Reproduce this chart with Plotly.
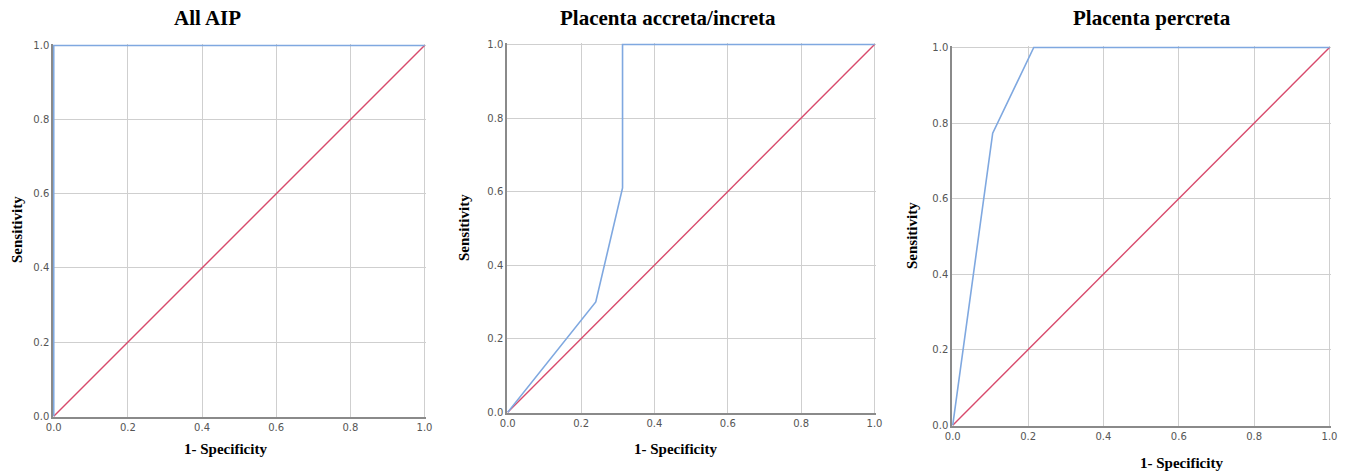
import plotly.graph_objects as go

# ---- data ----
titles = ["All AIP", "Placenta accreta/increta", "Placenta percreta"]
roc_x_all = [0.0, 0.0, 1.0]
roc_y_all = [0.0, 1.0, 1.0]
roc_x_acc = [0.0, 0.24, 0.313, 0.313, 1.0]
roc_y_acc = [0.0, 0.30, 0.61, 1.0, 1.0]
roc_x_per = [0.0, 0.106, 0.215, 1.0]
roc_y_per = [0.0, 0.773, 1.0, 1.0]
ref_x = [0.0, 1.0]
ref_y = [0.0, 1.0]
tick_vals = [0.0, 0.2, 0.4, 0.6, 0.8, 1.0]
tick_text = ["0.0", "0.2", "0.4", "0.6", "0.8", "1.0"]

W, H = 1351, 473
# pixel boxes (x0, x1, ytop, ybottom)
boxes = [(53, 426, 44, 417), (507, 876, 43, 413), (952, 1331, 46, 426)]
curves = [(roc_x_all, roc_y_all), (roc_x_acc, roc_y_acc), (roc_x_per, roc_y_per)]
title_pos = [(207, 18), (668, 18), (1152, 18)]
xtitle_pos = [(225, 449), (675, 449), (1181, 463)]
ytitle_pos = [(17, 230), (464, 228), (912, 236)]

BLUE = "#7FA8E0"
RED = "#D84A6C"
GRID = "#CFCFCF"

fig = go.Figure()
annotations = []
for i, (bx, (cx, cy)) in enumerate(zip(boxes, curves)):
    n = "" if i == 0 else str(i + 1)
    x0, x1, yt, yb = bx
    xd = [x0 / W, x1 / W]
    yd = [1 - yb / H, 1 - yt / H]
    fig.add_trace(go.Scatter(x=ref_x, y=ref_y, mode="lines",
                             line=dict(color=RED, width=1.4),
                             xaxis="x" + n, yaxis="y" + n, showlegend=False,
                             hoverinfo="skip"))
    fig.add_trace(go.Scatter(x=cx, y=cy, mode="lines",
                             line=dict(color=BLUE, width=1.6),
                             xaxis="x" + n, yaxis="y" + n, showlegend=False,
                             cliponaxis=False))
    common = dict(tickvals=tick_vals, ticktext=tick_text,
                  showgrid=True, gridcolor=GRID, gridwidth=1, zeroline=False,
                  showline=True, linecolor="#8A8A8A", linewidth=1.5,
                  ticks="", tickfont=dict(family="DejaVu Sans", size=10, color="#555"),
                  automargin=False, fixedrange=True)
    ax = dict(domain=xd, anchor="y" + n, range=[-0.002, 1.004], **common)
    ay = dict(domain=yd, anchor="x" + n, range=[-0.002, 1.004], **common)
    fig.update_layout(**{"xaxis" + n: ax, "yaxis" + n: ay})
    tx, ty = title_pos[i]
    annotations.append(dict(text="<b>" + titles[i] + "</b>", x=tx / W, y=1 - ty / H,
                            xref="paper", yref="paper", showarrow=False,
                            xanchor="center", yanchor="middle",
                            font=dict(family="Liberation Serif", size=21, color="#000")))
    xx, xy = xtitle_pos[i]
    annotations.append(dict(text="<b>1- Specificity</b>", x=xx / W, y=1 - xy / H,
                            xref="paper", yref="paper", showarrow=False,
                            xanchor="center", yanchor="middle",
                            font=dict(family="Liberation Serif", size=15, color="#000")))
    yx, yy = ytitle_pos[i]
    annotations.append(dict(text="<b>Sensitivity</b>", x=yx / W, y=1 - yy / H,
                            xref="paper", yref="paper", showarrow=False, textangle=-90,
                            xanchor="center", yanchor="middle",
                            font=dict(family="Liberation Serif", size=15, color="#000")))

fig.update_layout(width=W, height=H, margin=dict(l=0, r=0, t=0, b=0),
                  paper_bgcolor="white", plot_bgcolor="white",
                  annotations=annotations)
fig.write_html("out.html", config={"displayModeBar": False},
               post_script="document.body.style.margin='0';document.body.style.overflow='hidden';")
